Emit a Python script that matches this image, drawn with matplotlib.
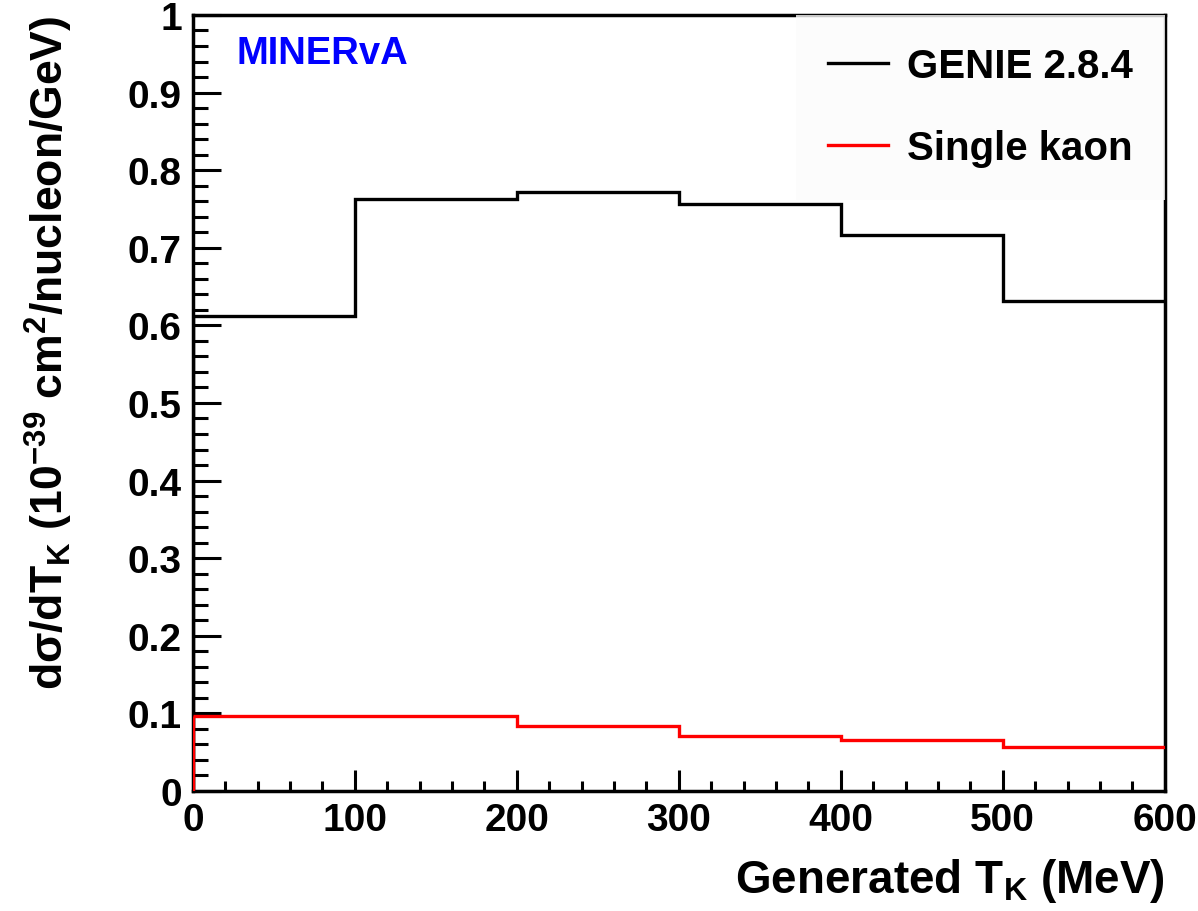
import numpy as np
import matplotlib.pyplot as plt
import matplotlib as mpl
from matplotlib.ticker import MultipleLocator

mpl.rcParams['font.family'] = 'Liberation Sans'
mpl.rcParams['font.weight'] = 'bold'
mpl.rcParams['axes.labelweight'] = 'bold'
mpl.rcParams['mathtext.fontset'] = 'custom'
mpl.rcParams['mathtext.rm'] = 'Liberation Sans:bold'
mpl.rcParams['mathtext.bf'] = 'Liberation Sans:bold'
mpl.rcParams['mathtext.default'] = 'rm'

# Bin edges (MeV) and cross sections (10^-39 cm^2/nucleon/GeV)
edges = [0, 100, 200, 300, 400, 500, 600]
genie = [0.612, 0.763, 0.772, 0.757, 0.716, 0.631]
single_kaon = [0.097, 0.097, 0.084, 0.071, 0.066, 0.057]
labels = ['GENIE 2.8.4', 'Single kaon']

fig = plt.figure(figsize=(11.98, 9.12), dpi=100)
ax = fig.add_axes([0.161, 0.1316, 0.8112, 0.8509])

lw = 2.4
ax.stairs(genie, edges, baseline=None, color='black', linewidth=lw, label=labels[0])
ax.vlines(edges[0], 0, genie[0], color='black', linewidth=lw)
ax.stairs(single_kaon, edges, baseline=None, color='red', linewidth=lw, label=labels[1], zorder=3)
ax.vlines(edges[0], 0, single_kaon[0], color='red', linewidth=lw, zorder=3)

ax.set_xlim(0, 600)
ax.set_ylim(0, 1)

for s in ax.spines.values():
    s.set_linewidth(2.5)

ax.xaxis.set_major_locator(MultipleLocator(100))
ax.xaxis.set_minor_locator(MultipleLocator(20))
ax.yaxis.set_major_locator(MultipleLocator(0.1))
ax.yaxis.set_minor_locator(MultipleLocator(0.02))
ax.tick_params(axis='both', which='both', direction='in', top=False, right=False, width=2.2)
ax.tick_params(axis='x', which='major', length=15, pad=8, labelsize=28)
ax.tick_params(axis='x', which='minor', length=7.5)
ax.tick_params(axis='y', which='major', length=20, pad=8, labelsize=28)
ax.tick_params(axis='y', which='minor', length=11)
ax.set_yticks(np.arange(0, 1.01, 0.1))
ax.set_yticklabels(['0', '0.1', '0.2', '0.3', '0.4', '0.5', '0.6', '0.7', '0.8', '0.9', '1'])

ax.set_xlabel('Generated T$_{K}$ (MeV)', fontsize=33, loc='right', labelpad=13)
ax.set_ylabel('dσ/dT$_{K}$ (10$^{-39}$ cm$^{2}$/nucleon/GeV)', fontsize=32, loc='top', labelpad=38)

ax.text(0.045, 0.974, 'MINERvA', transform=ax.transAxes, color='blue', fontsize=27.5,
        ha='left', va='top')

leg = ax.legend(loc='upper right', bbox_to_anchor=(1.0, 1.0), borderaxespad=0,
                fontsize=29, handlelength=1.5, handletextpad=0.45, labelspacing=1.1,
                frameon=True, fancybox=False, borderpad=0.8)
leg.get_frame().set_facecolor('#fcfcfc')
leg.get_frame().set_edgecolor('none')

fig.savefig('out.png', dpi=100)
